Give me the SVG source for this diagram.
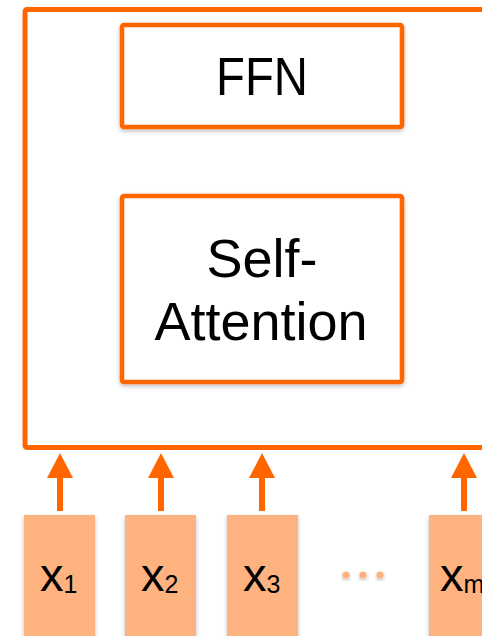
<svg xmlns="http://www.w3.org/2000/svg" width="482" height="636" viewBox="0 0 482 636">
  <style>
    .frame { fill: #ffffff; stroke: #ff6600; stroke-width: 5; }
    .block { fill: #ffffff; stroke: #ff6600; stroke-width: 4.6; filter: url(#shadow); }
    .token { fill: #fdb27f; filter: url(#shadow); }
    .label { font-family: "Liberation Sans", Arial, sans-serif; fill: #000000; text-anchor: middle; }
    .big { font-size: 54px; }
    .tok { font-family: "Liberation Sans", Arial, sans-serif; fill: #000000; font-size: 47px; }
    .sub { font-size: 25px; }
    .arrow { stroke: #ff6600; stroke-width: 6; fill: none; marker-end: url(#head); }
    .dot { fill: #fdb27f; filter: url(#shadow); }
  </style>
  <defs>
    <filter id="shadow" x="-10%" y="-10%" width="130%" height="130%">
      <feDropShadow dx="0" dy="2" stdDeviation="2" flood-color="#000000" flood-opacity="0.25"/>
    </filter>
    <marker id="head" markerUnits="userSpaceOnUse" markerWidth="26" markerHeight="26" refX="0" refY="13" orient="auto">
      <path d="M0,0 L25,13 L0,26 Z" fill="#ff6600"/>
    </marker>
  </defs>

  <!-- encoder layer frame (runs off the right edge) -->
  <g id="encoder">
    <rect class="frame" x="25" y="9.5" width="480" height="438" rx="2"/>
  </g>

  <g id="ffn">
    <rect class="block" x="122" y="25" width="280" height="102" rx="2"/>
    <text class="label big" x="262" y="95" textLength="92" lengthAdjust="spacingAndGlyphs">FFN</text>
  </g>

  <g id="self-attention">
    <rect class="block" x="122" y="196" width="280" height="186" rx="2"/>
    <text class="label big" x="262" y="277">Self-</text>
    <text class="label big" x="261" y="340">Attention</text>
  </g>

  <!-- input connectors -->
  <g id="connectors">
    <line class="arrow" x1="60" y1="511" x2="60" y2="478"/>
    <line class="arrow" x1="161" y1="511" x2="161" y2="478"/>
    <line class="arrow" x1="262" y1="511" x2="262" y2="478"/>
    <line class="arrow" x1="464" y1="511" x2="464" y2="478"/>
  </g>

  <g id="x1">
    <rect class="token" x="24" y="515" width="71" height="125"/>
    <text class="tok" x="40" y="591">x<tspan class="sub" dy="2">1</tspan></text>
  </g>
  <g id="x2">
    <rect class="token" x="125" y="515" width="71" height="125"/>
    <text class="tok" x="141" y="591">x<tspan class="sub" dy="2">2</tspan></text>
  </g>
  <g id="x3">
    <rect class="token" x="227" y="515" width="71" height="125"/>
    <text class="tok" x="243" y="591">x<tspan class="sub" dy="2">3</tspan></text>
  </g>
  <g id="ellipsis">
    <circle class="dot" cx="346" cy="575" r="3.6"/>
    <circle class="dot" cx="363" cy="575" r="3.6"/>
    <circle class="dot" cx="380" cy="575" r="3.6"/>
  </g>
  <g id="xm">
    <rect class="token" x="429" y="515" width="71" height="125"/>
    <text class="tok" x="440" y="591">x<tspan class="sub" dy="2">m</tspan></text>
  </g>
</svg>
